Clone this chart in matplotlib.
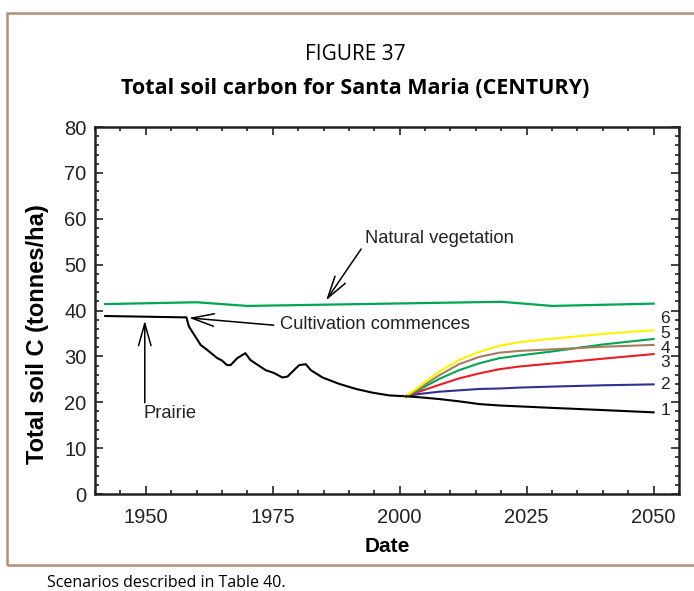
import matplotlib
matplotlib.use("Agg")
import matplotlib.pyplot as plt
from matplotlib.patches import Rectangle

plt.rcParams['font.family'] = ['Liberation Sans', 'DejaVu Sans']

# Historical soil carbon (CENTURY), tonnes/ha
hist_years = [1942, 1958, 1958.5, 1960.8, 1962.1, 1964.1, 1965, 1966, 1966.7, 1968,
              1969.6, 1970.6, 1973.6, 1975.2, 1976.9, 1977.9, 1980.2, 1981.5, 1982.5,
              1984.8, 1988.1, 1991.4, 1994.6, 1997.9, 2001.2]
hist_vals = [38.8, 38.5, 36.5, 32.5, 31.4, 29.6, 29.1, 28.1, 28.1, 29.6,
             30.7, 29.2, 27.0, 26.4, 25.4, 25.6, 28.1, 28.3, 27.0,
             25.4, 24.0, 22.9, 22.1, 21.5, 21.3]

# Natural vegetation
veg_years = [1942, 1960, 1970, 2020, 2030, 2050]
veg_vals = [41.4, 41.8, 41.0, 41.9, 41.0, 41.5]

# Future scenarios 1-6
scen_years = [2001.2, 2003.8, 2007.8, 2011.7, 2015.7, 2019.6, 2023.6, 2029.5, 2040, 2050]
scen1 = [21.3, 21.1, 20.7, 20.2, 19.6, 19.3, 19.1, 18.8, 18.3, 17.8]
scen2 = [21.3, 21.8, 22.3, 22.6, 22.9, 23.0, 23.2, 23.4, 23.7, 23.9]
scen3 = [21.3, 22.3, 23.8, 25.2, 26.3, 27.2, 27.8, 28.4, 29.5, 30.5]
scen4 = [21.3, 23.0, 25.9, 28.3, 29.9, 30.8, 31.2, 31.5, 32.1, 32.5]
scen5 = [21.3, 22.7, 25.1, 27.0, 28.5, 29.6, 30.2, 31.0, 32.6, 33.8]
scen6 = [21.3, 23.4, 26.7, 29.2, 31.0, 32.3, 33.1, 33.8, 34.9, 35.7]
scen_colors = ['#000000', '#2e3192', '#ed1c24', '#a47d5f', '#00a651', '#fff200']
scen_labels = ['1', '2', '3', '4', '5', '6']
scen_label_y = [18.1, 23.8, 28.6, 31.8, 34.9, 38.2]

x_ticks = [1950, 1975, 2000, 2025, 2050]
y_ticks = [0, 10, 20, 30, 40, 50, 60, 70, 80]

fig = plt.figure(figsize=(6.94, 5.91), dpi=100)
ax = fig.add_axes([0.1369, 0.1641, 0.8415, 0.6210])

# outer frame of the figure panel
fig.patches.append(Rectangle((7 / 694, 1 - 565 / 591), 1.0, (565 - 13) / 591,
                             transform=fig.transFigure, fill=False,
                             edgecolor='#b39177', linewidth=1.8, clip_on=False))

ax.plot(veg_years, veg_vals, color='#00a651', lw=1.6)
ax.plot(hist_years, hist_vals, color='black', lw=1.5)
series = [scen1, scen2, scen3, scen4, scen5, scen6]
for idx in [1, 2, 4, 3, 5, 0]:
    ax.plot(scen_years, series[idx], color=scen_colors[idx], lw=1.5)

for lab, yv in zip(scen_labels, scen_label_y):
    ax.text(2051.3, yv, lab, fontsize=12.5, va='center', ha='left', color='#222222')

arrow_kw = dict(arrowstyle='->,head_length=1.6,head_width=0.45', color='black', lw=1.1,
                shrinkA=0, shrinkB=0)
ann_size = 13.2
ax.annotate('', xy=(1985.5, 42.2), xytext=(1992.4, 53.4), arrowprops=arrow_kw)
ax.text(1993.2, 55.8, 'Natural vegetation', fontsize=ann_size, va='center', ha='left',
        color='#222222')
ax.annotate('', xy=(1958.5, 38.4), xytext=(1975.2, 36.8), arrowprops=arrow_kw)
ax.text(1976.5, 37.0, 'Cultivation commences', fontsize=ann_size, va='center', ha='left',
        color='#222222')
ax.annotate('', xy=(1949.8, 37.8), xytext=(1949.8, 19.9), arrowprops=arrow_kw)
ax.text(1949.5, 17.6, 'Prairie', fontsize=ann_size, va='center', ha='left', color='#222222')

ax.set_xlim(1940, 2055)
ax.set_ylim(0, 80)
ax.set_xticks(x_ticks)
ax.set_yticks(y_ticks)
ax.set_xticks(range(1940, 2056, 5), minor=True)
ax.set_yticks(range(0, 81, 2), minor=True)
ax.tick_params(which='both', direction='in', top=True, right=True, width=1.2,
               labelsize=14.5, colors='#222222')
ax.tick_params(which='major', length=6)
ax.tick_params(axis='x', which='major', pad=10)
ax.tick_params(axis='y', which='major', pad=6)
ax.tick_params(which='minor', length=3)
for s in ax.spines.values():
    s.set_linewidth(1.8)
    s.set_color('#222222')

ax.set_xlabel('Date', fontsize=15, fontweight='bold', labelpad=7)
ax.set_ylabel('Total soil C (tonnes/ha)', fontsize=17, fontweight='bold')
ax.yaxis.set_label_coords(-0.078, 0.436)

fig.text(0.512, 1 - 54 / 591, 'FIGURE 37', fontsize=15, ha='center', va='center',
         family=['Open Sans', 'DejaVu Sans'])
fig.text(0.512, 1 - 88 / 591, 'Total soil carbon for Santa Maria (CENTURY)', fontsize=15.5,
         fontweight='bold', ha='center', va='center', family=['Open Sans', 'DejaVu Sans'])
fig.text(47 / 694, 1 - 583 / 591, 'Scenarios described in Table 40.', fontsize=11.5,
         ha='left', va='center', family=['Open Sans', 'DejaVu Sans'])

fig.savefig('out.png', dpi=100)
